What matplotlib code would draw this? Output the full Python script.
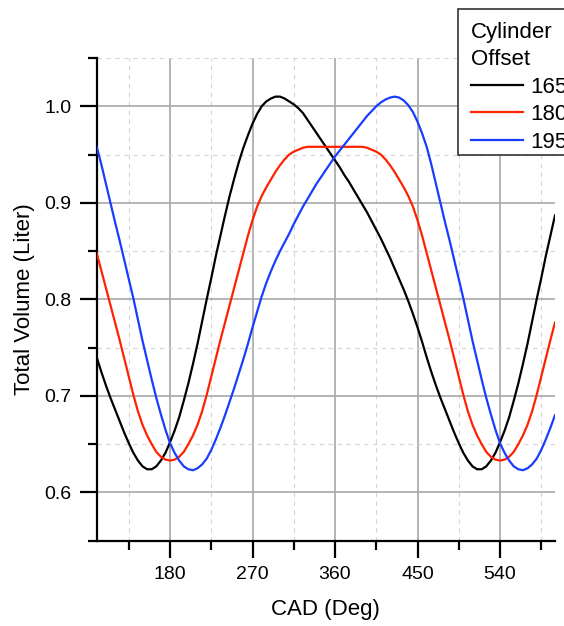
import numpy as np
import matplotlib
matplotlib.use("Agg")
import matplotlib.pyplot as plt
from matplotlib.ticker import FixedLocator
from matplotlib.patches import Rectangle

plt.rcParams['font.family'] = ['Liberation Sans', 'DejaVu Sans']

# ---- data ----
cad_deg = np.arange(100, 601, 5)

offset_165 = [0.740, 0.725, 0.711, 0.698, 0.686, 0.674, 0.662, 0.651, 0.641, 0.633, 0.627, 0.624, 0.624,
              0.627, 0.633, 0.641, 0.652, 0.664, 0.678, 0.695, 0.713, 0.733, 0.754, 0.777, 0.800,
              0.822, 0.845, 0.866, 0.887, 0.907, 0.925, 0.942, 0.957, 0.970, 0.982, 0.992, 1.000,
              1.005, 1.008, 1.010, 1.010, 1.008, 1.005, 1.002, 0.998, 0.993, 0.986, 0.979, 0.972,
              0.965, 0.958, 0.951, 0.944, 0.937, 0.929, 0.922, 0.914, 0.906, 0.898, 0.890, 0.881,
              0.872, 0.863, 0.853, 0.843, 0.832, 0.821, 0.810, 0.798, 0.785, 0.771, 0.756, 0.740,
              0.725, 0.711, 0.698, 0.686, 0.674, 0.662, 0.651, 0.641, 0.633, 0.627, 0.624, 0.624,
              0.627, 0.633, 0.641, 0.652, 0.664, 0.678, 0.695, 0.713, 0.733, 0.754, 0.777, 0.800,
              0.822, 0.845, 0.866, 0.887]

offset_180 = [0.848, 0.830, 0.812, 0.794, 0.776, 0.758, 0.739, 0.720, 0.701, 0.684, 0.670, 0.659, 0.650,
              0.642, 0.637, 0.634, 0.633, 0.634, 0.637, 0.642, 0.650, 0.659, 0.670, 0.684, 0.701,
              0.720, 0.739, 0.758, 0.776, 0.794, 0.812, 0.830, 0.848, 0.866, 0.882, 0.896, 0.907,
              0.916, 0.924, 0.932, 0.939, 0.945, 0.950, 0.953, 0.955, 0.957, 0.958, 0.958, 0.958,
              0.958, 0.958, 0.958, 0.958, 0.958, 0.958, 0.958, 0.958, 0.958, 0.958, 0.957, 0.955,
              0.953, 0.950, 0.945, 0.939, 0.932, 0.924, 0.916, 0.907, 0.896, 0.882, 0.866, 0.848,
              0.830, 0.812, 0.794, 0.776, 0.758, 0.739, 0.720, 0.701, 0.684, 0.670, 0.659, 0.650,
              0.642, 0.637, 0.634, 0.633, 0.634, 0.637, 0.642, 0.650, 0.659, 0.670, 0.684, 0.701,
              0.720, 0.739, 0.758, 0.776]

offset_195 = [0.958, 0.940, 0.920, 0.900, 0.880, 0.861, 0.841, 0.821, 0.801, 0.779, 0.757, 0.737, 0.717,
              0.698, 0.681, 0.665, 0.651, 0.641, 0.633, 0.627, 0.624, 0.623, 0.625, 0.629, 0.635,
              0.644, 0.655, 0.667, 0.680, 0.694, 0.708, 0.723, 0.738, 0.754, 0.771, 0.787, 0.803,
              0.817, 0.829, 0.840, 0.850, 0.859, 0.868, 0.878, 0.887, 0.896, 0.904, 0.912, 0.920,
              0.927, 0.934, 0.941, 0.948, 0.954, 0.960, 0.966, 0.972, 0.978, 0.984, 0.990, 0.995,
              1.000, 1.004, 1.007, 1.009, 1.010, 1.009, 1.006, 1.001, 0.994, 0.984, 0.972, 0.958,
              0.940, 0.920, 0.900, 0.880, 0.861, 0.841, 0.821, 0.801, 0.779, 0.757, 0.737, 0.717,
              0.698, 0.681, 0.665, 0.651, 0.641, 0.633, 0.627, 0.624, 0.623, 0.625, 0.629, 0.635,
              0.644, 0.655, 0.667, 0.680]

series_labels = ['165', '180', '195']
series_colors = ['#000000', '#ff2200', '#1a3cff']

x_major = [180, 270, 360, 450, 540]
x_minor = [135, 225, 315, 405, 495, 585]
y_major = [0.6, 0.7, 0.8, 0.9, 1.0]
y_minor = [0.55, 0.65, 0.75, 0.85, 0.95, 1.05]

# ---- figure ----
W, H = 564, 626
fig = plt.figure(figsize=(W / 100, H / 100), dpi=100)
ax = fig.add_axes([96.7 / W, 1 - 540.7 / H, (555 - 96.7) / W, (540.7 - 58) / H])

lines = []
for vals, lab, col in zip([offset_165, offset_180, offset_195], series_labels, series_colors):
    ln, = ax.plot(cad_deg, vals, color=col, lw=1.6, label=lab, zorder=3)
    lines.append(ln)

ax.set_xlim(100, 600)
ax.set_ylim(0.55, 1.05)

ax.xaxis.set_major_locator(FixedLocator(x_major))
ax.xaxis.set_minor_locator(FixedLocator(x_minor))
ax.yaxis.set_major_locator(FixedLocator(y_major))
ax.yaxis.set_minor_locator(FixedLocator(y_minor))
ax.set_xticklabels([str(v) for v in x_major])
ax.set_yticklabels(['%.1f' % v for v in y_major])

ax.set_axisbelow(True)
ax.grid(which='major', color='#a8a8a8', lw=1.2, ls='-')
ax.grid(which='minor', color='#d4d4d4', lw=0.8, ls=(0, (4, 4)))

for s in ['top', 'right']:
    ax.spines[s].set_visible(False)
for s in ['left', 'bottom']:
    ax.spines[s].set_linewidth(1.6)
    ax.spines[s].set_color('black')

ax.tick_params(which='major', direction='out', length=12, width=1.6, pad=6,
               labelsize=14, colors='black')
ax.tick_params(which='minor', direction='out', length=6.5, width=1.6)

ax.set_xlabel('CAD (Deg)', fontsize=16, labelpad=12)
ax.set_ylabel('Total Volume (Liter)', fontsize=16, labelpad=7)

# legend frame drawn separately (box from y=9 to y=155 px)
frame = Rectangle((457.7 / W, 1 - 155 / H), (580 - 457.7) / W, (155 - 9) / H,
                  transform=fig.transFigure, facecolor='white', edgecolor='#333333',
                  lw=1.2, clip_on=False, zorder=9)
ax.add_patch(frame)

leg = ax.legend(handles=lines, labels=series_labels, title='Cylinder\nOffset',
                loc='upper left', bbox_to_anchor=(457.7 / W, 1 - 9 / H),
                bbox_transform=fig.transFigure, fontsize=16, title_fontsize=16,
                frameon=False, borderaxespad=0, handlelength=2.35, handletextpad=0.3,
                labelspacing=0.3, borderpad=0.6, alignment='left')
leg.get_title().set_linespacing(1.35)
leg.set_zorder(10)

fig.savefig('out.png', dpi=100)
